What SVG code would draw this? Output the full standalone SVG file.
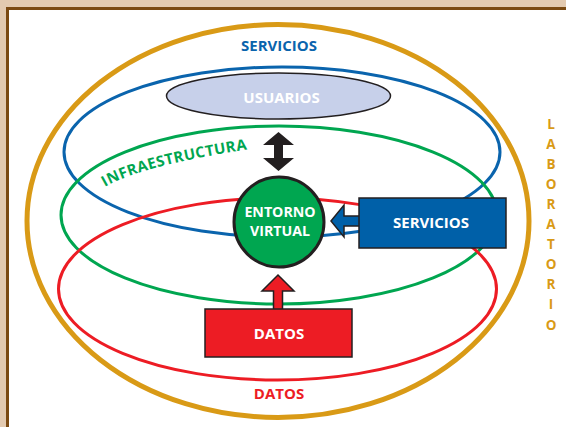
<svg xmlns="http://www.w3.org/2000/svg" width="566" height="427" viewBox="0 0 566 427">
  <defs>
    <style>
      .lbl { font-family: "Open Sans", "Liberation Sans", sans-serif; font-weight: bold; text-anchor: middle; }
      .ring { fill: none; }
      .box { stroke: #231f20; stroke-width: 1.5; }
    </style>
    <path id="infraPath" d="M105,187 Q146,163 272,146"/>
  </defs>

  <!-- page background and frame -->
  <rect x="0" y="0" width="566" height="427" fill="#e3cab0"/>
  <rect x="7.5" y="8.5" width="580" height="430" fill="#ffffff" stroke="#7b4a12" stroke-width="3"/>

  <!-- laboratory boundary -->
  <g id="laboratorio">
    <ellipse class="ring" cx="278" cy="221" rx="251" ry="196.5" stroke="#d99a16" stroke-width="5"/>
    <g class="lbl" fill="#d99a16" font-size="13.5">
      <text x="551" y="128.5">L</text>
      <text x="551" y="148.6">A</text>
      <text x="551" y="168.7">B</text>
      <text x="551" y="188.8">O</text>
      <text x="551" y="208.9">R</text>
      <text x="551" y="229">A</text>
      <text x="551" y="249.1">T</text>
      <text x="551" y="269.2">O</text>
      <text x="551" y="289.3">R</text>
      <text x="551" y="309.4">I</text>
      <text x="551" y="329.5">O</text>
    </g>
  </g>

  <!-- layer rings -->
  <g id="capa-servicios">
    <ellipse class="ring" cx="282" cy="152" rx="218" ry="85" stroke="#0a64ad" stroke-width="3"/>
    <text class="lbl" x="279" y="50.5" font-size="15" fill="#0a64ad">SERVICIOS</text>
  </g>
  <g id="capa-infraestructura">
    <ellipse class="ring" cx="279" cy="215" rx="218" ry="89" stroke="#00a650" stroke-width="3"/>
    <text class="lbl" font-size="15" letter-spacing="0.4" fill="#00a650" style="text-anchor:start">
      <textPath href="#infraPath">INFRAESTRUCTURA</textPath>
    </text>
  </g>
  <g id="capa-datos">
    <ellipse class="ring" cx="277.5" cy="289" rx="219" ry="91" stroke="#ed1c24" stroke-width="3"/>
    <text class="lbl" x="279" y="399" font-size="15" fill="#ed1c24">DATOS</text>
  </g>

  <!-- users -->
  <g id="usuarios">
    <ellipse cx="278.5" cy="96" rx="112" ry="23" fill="#c7d0ea" stroke="#231f20" stroke-width="1.5"/>
    <text class="lbl" x="281.5" y="102.5" font-size="15" fill="#ffffff">USUARIOS</text>
  </g>

  <!-- connectors -->
  <g id="conectores">
    <polygon points="278.5,132 294,145 283,145 283,158 294,158 278.5,171 263,158 274,158 274,145 263,145" fill="#231f20"/>
    <polygon class="box" points="331,221 344,205 344,216 360,216 360,226 344,226 344,237" fill="#0060a8"/>
    <polygon class="box" points="278,275 294,291 282.5,291 282.5,310 273.5,310 273.5,291 262,291" fill="#ed1c24"/>
  </g>

  <!-- central virtual environment -->
  <g id="entorno-virtual">
    <circle cx="279" cy="222" r="45" fill="#00a650" stroke="#231f20" stroke-width="3"/>
    <text class="lbl" x="280" y="217" font-size="14.2" fill="#ffffff">ENTORNO</text>
    <text class="lbl" x="280" y="236" font-size="14.2" fill="#ffffff">VIRTUAL</text>
  </g>

  <!-- services block -->
  <g id="servicios">
    <rect class="box" x="359" y="198" width="147" height="50" fill="#0060a8"/>
    <text class="lbl" x="431" y="228" font-size="15" fill="#ffffff">SERVICIOS</text>
  </g>

  <!-- data block -->
  <g id="datos">
    <rect class="box" x="205" y="309" width="147" height="48" fill="#ed1c24"/>
    <text class="lbl" x="279" y="338.5" font-size="15" fill="#ffffff">DATOS</text>
  </g>
</svg>
